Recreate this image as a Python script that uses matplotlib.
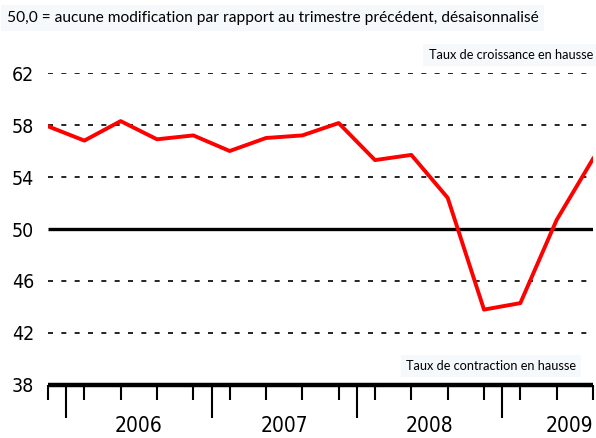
import matplotlib.pyplot as plt
from matplotlib import font_manager

# quarterly index, Q4 2005 .. Q3 2009
quarters = list(range(16))
values = [57.9, 56.8, 58.3, 56.9, 57.2, 56.0, 57.0, 57.2, 58.15,
          55.3, 55.7, 52.4, 43.8, 44.3, 50.7, 55.4]
years = ['2006', '2007', '2008', '2009']
year_pos = [2.5, 6.5, 10.5, 15]
year_bounds = [0.5, 4.5, 8.5, 12.5]
y_ticks = [38, 42, 46, 50, 54, 58, 62]
grid_levels = [42, 46, 54, 58, 62]

names = {f.name for f in font_manager.fontManager.ttflist}
body = 'Lato' if 'Lato' in names else 'DejaVu Sans'
narrow = dict(fontfamily='DejaVu Sans', fontstretch='condensed')

fig = plt.figure(figsize=(5.96, 4.38), dpi=100)
ax = fig.add_axes([48 / 596, 53 / 438, 545 / 596, 312 / 438])

for lev in grid_levels:
    ax.plot([0, 15], [lev, lev], color='black', lw=1.2, dashes=(3, 5), zorder=1)
ax.plot([0, 15], [50, 50], color='black', lw=2.4, solid_capstyle='butt', zorder=2)
ax.plot(quarters, values, color='#ff0000', lw=2.8, zorder=3)

ax.set_xlim(0, 15)
ax.set_ylim(38, 62)
for s in ['top', 'right', 'left']:
    ax.spines[s].set_visible(False)
ax.spines['bottom'].set_linewidth(3.2)
ax.spines['bottom'].set_capstyle('butt')

ax.set_xticks(quarters)
ax.set_xticklabels([])
ax.set_xticks(year_bounds, minor=True)
ax.tick_params(axis='x', which='major', length=11, width=1.5, direction='out')
ax.tick_params(axis='x', which='minor', length=24, width=1.5, direction='out')

ax.set_yticks(y_ticks)
ax.set_yticklabels([str(v) for v in y_ticks], fontsize=14, **narrow)
ax.tick_params(axis='y', length=0, pad=10)

for lab, xp in zip(years, year_pos):
    xf = (48 + xp / 15 * 545) / 596
    fig.text(xf, 2 / 438, lab, ha='center' if lab != '2009' else 'right',
             va='bottom', fontsize=15, **narrow)

box = dict(facecolor='#f5f9fc', edgecolor='none', pad=4)
fig.text(7 / 596, 1 - 18 / 438,
         '50,0 = aucune modification par rapport au trimestre précédent, désaisonnalisé',
         fontfamily=body, fontsize=11.2, va='center', ha='left', bbox=box)
fig.text(593 / 596, 1 - 55 / 438, 'Taux de croissance en hausse',
         fontfamily=body, fontsize=9.2, va='center', ha='right', bbox=box)
fig.text(576 / 596, 1 - 366 / 438, 'Taux de contraction en hausse',
         fontfamily=body, fontsize=9.2, va='center', ha='right', bbox=box)

fig.savefig('out.png', dpi=100)
